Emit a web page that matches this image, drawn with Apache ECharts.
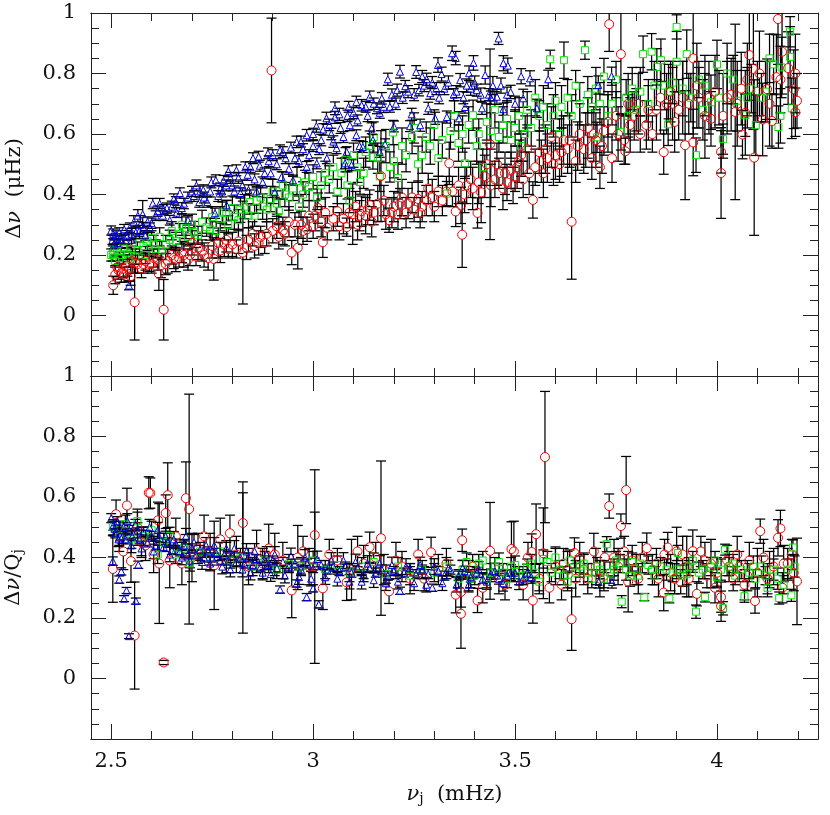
<!DOCTYPE html>
<html>
<head>
<meta charset="utf-8">
<script src="https://cdn.jsdelivr.net/npm/echarts@6/dist/echarts.min.js"></script>
<style>
  html, body { margin: 0; background: #fff; }
  #chart { width: 830px; height: 815px; }
</style>
</head>
<body>
<div id="chart"></div>
<script>
// rows are [nu, value, error]
const topBlue = [
[2.5,.281,.015],[2.503,.25,.015],[2.507,.235,.015],[2.512,.265,.015],[2.516,.24,.014],[2.52,.275,.015],[2.526,.25,.015],[2.532,.285,.016],[2.538,.265,.016],[2.544,.099,.014],[2.546,.29,.016],[2.551,.25,.02],[2.556,.31,.02],[2.561,.275,.02],[2.566,.33,.02],[2.572,.3,.03],[2.578,.335,.045],[2.584,.265,.016],[2.59,.31,.016],[2.596,.29,.016],[2.603,.37,.017],[2.61,.33,.016],[2.62,.37,.017],[2.628,.33,.016],[2.638,.355,.017],[2.645,.315,.016],[2.655,.385,.017],[2.662,.34,.016],[2.67,.405,.017],[2.68,.37,.017],[2.69,.315,.016],[2.7,.41,.017],[2.711,.43,.018],[2.718,.375,.017],[2.728,.415,.017],[2.738,.375,.017],[2.748,.44,.018],[2.757,.338,.017],[2.759,.447,.018],[2.77,.42,.018],[2.778,.445,.018],[2.786,.364,.017],[2.79,.477,.018],[2.8,.43,.018],[2.81,.48,.018],[2.82,.405,.017],[2.832,.49,.018],[2.84,.415,.017],[2.851,.52,.018],[2.86,.41,.017],[2.868,.495,.018],[2.875,.44,.018],[2.888,.536,.018],[2.895,.47,.018],[2.905,.408,.017],[2.918,.546,.018],[2.922,.458,.017],[2.932,.52,.018],[2.95,.447,.017],[2.959,.574,.019],[2.965,.51,.018],[2.975,.55,.018],[2.984,.491,.018],[2.984,.596,.019],[3.0,.56,.018],[3.008,.626,.02],[3.009,.503,.018],[3.02,.58,.019],[3.033,.652,.02],[3.034,.52,.018],[3.045,.6,.019],[3.054,.685,.021],[3.054,.655,.02],[3.058,.553,.018],[3.068,.62,.018],[3.079,.503,.018],[3.083,.541,.017],[3.088,.69,.018],[3.091,.629,.018],[3.095,.497,.018],[3.107,.706,.019],[3.107,.596,.018],[3.115,.56,.018],[3.123,.557,.018],[3.13,.69,.018],[3.14,.723,.019],[3.145,.619,.018],[3.148,.58,.018],[3.158,.685,.018],[3.165,.541,.018],[3.17,.718,.019],[3.178,.566,.018],[3.185,.781,.02],[3.19,.69,.018],[3.2,.625,.018],[3.208,.745,.02],[3.215,.806,.021],[3.222,.72,.019],[3.228,.758,.019],[3.24,.626,.018],[3.244,.665,.02],[3.255,.805,.021],[3.262,.745,.019],[3.265,.629,.02],[3.27,.79,.02],[3.281,.781,.02],[3.285,.685,.02],[3.29,.735,.02],[3.302,.652,.02],[3.309,.828,.024],[3.312,.72,.02],[3.318,.798,.023],[3.325,.75,.02],[3.331,.656,.02],[3.344,.867,.024],[3.348,.73,.02],[3.353,.851,.022],[3.361,.652,.022],[3.364,.778,.022],[3.372,.72,.02],[3.376,.689,.02],[3.386,.801,.024],[3.39,.75,.022],[3.397,.835,.024],[3.405,.745,.02],[3.418,.685,.02],[3.426,.795,.03],[3.435,.73,.02],[3.445,.76,.03],[3.455,.723,.025],[3.459,.916,.02],[3.471,.834,.025],[3.471,.682,.02],[3.482,.826,.025],[3.489,.739,.022],[3.52,.718,.03],[3.515,.791,.025],[3.537,.784,.025],[3.554,.685,.03],[3.582,.781,.03],[3.706,.762,.03],[3.739,.791,.03],
[2.505,.27,.016],[2.515,.255,.015],[2.535,.25,.016],[2.55,.27,.018],[2.57,.28,.018],[2.58,.29,.018],[2.6,.305,.017],[2.615,.345,.017],[2.63,.35,.017],[2.65,.36,.018],[2.66,.375,.018],[2.675,.355,.018],[2.69,.39,.018],[2.705,.395,.018],[2.72,.41,.018],[2.73,.39,.018],[2.745,.41,.018],[2.765,.395,.018],[2.775,.41,.018],[2.785,.43,.018],[2.795,.455,.018],[2.805,.41,.018],[2.815,.455,.018],[2.825,.43,.018],[2.838,.465,.018],[2.845,.49,.018],[2.855,.45,.018],[2.865,.525,.018],[2.88,.47,.018],[2.89,.51,.018],[2.9,.53,.018],[2.91,.5,.018],[2.925,.54,.018],[2.94,.485,.018],[2.945,.555,.018],[2.955,.52,.018],[2.97,.575,.018],[2.99,.53,.018],[3.0,.6,.019],[3.015,.55,.018],[3.025,.615,.019],[3.04,.63,.019],[3.05,.575,.019],[3.065,.665,.02],[3.075,.59,.018],[3.085,.66,.019],[3.1,.67,.019],[3.11,.645,.018],[3.12,.695,.019],[3.135,.66,.019],[3.15,.7,.019],[3.165,.67,.018],[3.175,.69,.019],[3.195,.73,.019],[3.205,.7,.019],[3.235,.74,.02],[3.25,.73,.02],[3.275,.76,.02],[3.295,.77,.02],[3.305,.75,.02],[3.335,.77,.022],[3.355,.74,.02],[3.38,.76,.022],[3.4,.77,.022],[3.415,.73,.022],[3.44,.72,.022],[3.465,.76,.025],[3.48,.73,.025],[3.5,.7,.025]
];
const topGreen = [
[2.5,.2,.02],[2.504,.205,.025],[2.51,.18,.02],[2.515,.215,.02],[2.52,.19,.02],[2.53,.225,.025],[2.54,.205,.02],[2.55,.22,.03],[2.56,.195,.025],[2.57,.24,.03],[2.58,.23,.025],[2.59,.245,.03],[2.6,.255,.025],[2.61,.22,.03],[2.62,.26,.03],[2.635,.235,.03],[2.65,.28,.03],[2.66,.245,.03],[2.675,.3,.035],[2.69,.26,.03],[2.7,.3,.035],[2.715,.265,.03],[2.736,.292,.03],[2.75,.325,.035],[2.76,.28,.03],[2.775,.34,.035],[2.79,.3,.03],[2.8,.355,.04],[2.815,.315,.035],[2.83,.36,.04],[2.843,.375,.04],[2.855,.33,.035],[2.87,.39,.04],[2.885,.35,.04],[2.9,.41,.04],[2.915,.345,.04],[2.93,.4,.04],[2.95,.42,.04],[2.965,.36,.035],[2.98,.44,.04],[3.0,.458,.04],[3.01,.39,.04],[3.03,.47,.04],[3.05,.49,.04],[3.06,.41,.04],[3.08,.515,.04],[3.09,.38,.04],[3.1,.53,.04],[3.116,.441,.04],[3.13,.54,.05],[3.148,.524,.04],[3.15,.59,.05],[3.165,.46,.05],[3.19,.491,.05],[3.198,.605,.04],[3.21,.455,.05],[3.22,.56,.06],[3.25,.62,.05],[3.26,.5,.06],[3.28,.59,.05],[3.3,.63,.05],[3.31,.52,.06],[3.331,.403,.04],[3.35,.66,.05],[3.36,.57,.06],[3.376,.503,.05],[3.396,.662,.05],[3.41,.6,.05],[3.42,.49,.06],[3.43,.64,.06],[3.45,.68,.06],[3.46,.59,.05],[3.48,.65,.06],[3.5,.62,.06],[3.515,.56,.05],[3.53,.68,.06],[3.54,.62,.06],[3.55,.72,.06],[3.56,.66,.05],[3.587,.847,.03],[3.6,.71,.06],[3.61,.6,.05],[3.621,.844,.06],[3.63,.72,.06],[3.65,.76,.05],[3.673,.877,.03],[3.68,.73,.06],[3.69,.69,.06],[3.703,.589,.05],[3.72,.79,.06],[3.73,.66,.07],[3.75,.78,.06],[3.762,.607,.06],[3.775,.72,.06],[3.79,.75,.07],[3.8,.68,.07],[3.817,.864,.06],[3.83,.7,.06],[3.838,.872,.06],[3.851,.822,.06],[3.861,.844,.07],[3.87,.76,.08],[3.879,.632,.07],[3.89,.77,.07],[3.9,.954,.04],[3.9,.839,.1],[3.925,.864,.08],[3.935,.72,.08],[3.948,.53,.057],[3.955,.78,.06],[3.965,.68,.1],[3.985,.705,.09],[4.0,.83,.08],[4.015,.583,.05],[4.025,.8,.1],[4.04,.78,.08],[4.07,.662,.07],[4.085,.75,.08],[4.096,.629,.1],[4.11,.72,.08],[4.13,.85,.08],[4.14,.83,.1],[4.152,.623,.07],[4.157,.66,.09],[4.16,.82,.1],[4.181,.938,.05],[4.181,.855,.1],[4.185,.685,.1],
[2.508,.215,.022],[2.525,.2,.022],[2.545,.185,.025],[2.565,.215,.028],[2.585,.2,.028],[2.605,.235,.03],[2.625,.215,.03],[2.645,.25,.032],[2.67,.27,.034],[2.685,.29,.036],[2.705,.275,.036],[2.725,.31,.038],[2.745,.285,.036],[2.77,.32,.04],[2.785,.34,.04],[2.805,.325,.04],[2.82,.35,.042],[2.84,.33,.04],[2.86,.38,.042],[2.875,.36,.042],[2.895,.385,.042],[2.91,.37,.042],[2.925,.43,.045],[2.94,.39,.042],[2.96,.445,.045],[2.975,.4,.042],[2.99,.425,.045],[3.02,.43,.045],[3.04,.45,.045],[3.07,.47,.05],[3.085,.43,.045],[3.11,.49,.05],[3.125,.47,.05],[3.14,.56,.05],[3.16,.52,.05],[3.18,.56,.055],[3.2,.51,.055],[3.23,.53,.055],[3.245,.59,.055],[3.27,.53,.06],[3.29,.56,.06],[3.32,.58,.06],[3.34,.61,.06],[3.37,.6,.06],[3.385,.63,.06],[3.405,.56,.06],[3.44,.61,.06],[3.47,.63,.06],[3.49,.58,.06],[3.51,.66,.06],[3.525,.6,.06],[3.57,.69,.07],[3.58,.63,.07],[3.595,.66,.07],[3.615,.69,.07],[3.64,.66,.07],[3.66,.7,.07],[3.7,.75,.07],[3.71,.7,.07],[3.74,.7,.07],[3.78,.66,.07],[3.81,.74,.08],[3.845,.76,.08],[3.88,.74,.09],[3.915,.75,.09],[3.97,.76,.1],[4.005,.72,.09],[4.05,.71,.1],[4.075,.72,.1],[4.12,.74,.1]
];
const topRed = [
[2.505,.1,.03],[2.51,.135,.03],[2.518,.15,.03],[2.525,.14,.03],[2.532,.135,.025],[2.54,.165,.035],[2.548,.13,.03],[2.558,.044,.125],[2.552,.18,.04],[2.565,.17,.03],[2.575,.155,.03],[2.585,.18,.03],[2.595,.17,.025],[2.605,.19,.03],[2.618,.138,.055],[2.623,.165,.04],[2.63,.019,.1],[2.64,.18,.04],[2.65,.2,.03],[2.66,.185,.04],[2.668,.19,.03],[2.68,.2,.04],[2.69,.185,.035],[2.7,.24,.04],[2.71,.195,.03],[2.725,.215,.035],[2.74,.19,.04],[2.754,.187,.07],[2.765,.24,.05],[2.78,.235,.04],[2.79,.22,.03],[2.8,.235,.04],[2.81,.22,.03],[2.826,.208,.17],[2.84,.25,.04],[2.855,.23,.04],[2.87,.26,.035],[2.88,.24,.035],[2.897,.81,.173],[2.9,.28,.04],[2.915,.26,.04],[2.93,.27,.04],[2.947,.208,.04],[2.955,.3,.04],[2.962,.224,.07],[2.975,.28,.045],[2.99,.33,.05],[3.0,.295,.04],[3.012,.355,.05],[3.024,.242,.05],[3.035,.29,.04],[3.05,.32,.04],[3.065,.295,.045],[3.083,.292,.03],[3.09,.34,.05],[3.098,.335,.1],[3.11,.3,.05],[3.12,.345,.05],[3.13,.33,.06],[3.14,.365,.05],[3.15,.34,.04],[3.16,.37,.06],[3.168,.461,.15],[3.18,.335,.05],[3.188,.315,.04],[3.2,.36,.05],[3.21,.335,.05],[3.22,.39,.06],[3.235,.37,.05],[3.25,.35,.04],[3.26,.385,.06],[3.27,.36,.05],[3.285,.42,.05],[3.295,.39,.06],[3.31,.41,.05],[3.32,.38,.05],[3.337,.503,.07],[3.345,.41,.05],[3.353,.344,.05],[3.366,.364,.06],[3.369,.267,.108],[3.38,.43,.06],[3.395,.42,.07],[3.407,.339,.05],[3.416,.407,.1],[3.43,.5,.07],[3.438,.566,.315],[3.45,.45,.06],[3.46,.47,.05],[3.47,.42,.07],[3.48,.44,.06],[3.49,.48,.06],[3.5,.46,.05],[3.51,.51,.07],[3.52,.45,.06],[3.53,.55,.08],[3.544,.382,.06],[3.55,.49,.06],[3.56,.54,.07],[3.57,.47,.08],[3.58,.52,.08],[3.59,.59,.1],[3.6,.53,.08],[3.61,.5,.06],[3.62,.58,.08],[3.63,.55,.08],[3.64,.31,.19],[3.65,.51,.07],[3.66,.6,.1],[3.67,.55,.08],[3.68,.62,.1],[3.69,.52,.07],[3.7,.58,.09],[3.71,.49,.07],[3.72,.61,.08],[3.733,.963,.09],[3.74,.52,.08],[3.75,.66,.08],[3.762,.864,.2],[3.77,.58,.08],[3.773,.543,.043],[3.785,.63,.09],[3.795,.66,.08],[3.81,.6,.06],[3.825,.63,.08],[3.84,.6,.06],[3.85,.68,.1],[3.868,.54,.073],[3.875,.7,.1],[3.885,.74,.1],[3.895,.64,.1],[3.905,.68,.1],[3.921,.563,.18],[3.93,.7,.1],[3.941,.572,.11],[3.941,.85,.25],[3.955,.72,.1],[3.97,.66,.14],[3.985,.65,.09],[3.995,.74,.12],[4.01,.541,.07],[4.01,.471,.15],[4.015,.66,.14],[4.025,.72,.12],[4.045,.673,.29],[4.06,.75,.12],[4.063,.598,.08],[4.075,.78,.12],[4.08,.861,.15],[4.09,.815,.2],[4.092,.522,.257],[4.1,.74,.1],[4.113,.648,.12],[4.124,.748,.1],[4.136,.643,.09],[4.147,.788,.14],[4.151,.98,.15],[4.157,.78,.11],[4.161,.872,.14],[4.176,.818,.12],[4.19,.748,.13],[4.194,.8,.13],[4.194,.672,.08],[4.198,.71,.09],
[2.515,.16,.032],[2.53,.155,.03],[2.545,.15,.035],[2.56,.175,.035],[2.58,.17,.03],[2.6,.17,.03],[2.615,.185,.035],[2.635,.17,.035],[2.655,.19,.035],[2.675,.21,.035],[2.695,.2,.035],[2.715,.225,.04],[2.73,.2,.04],[2.75,.23,.04],[2.77,.215,.04],[2.785,.25,.04],[2.815,.245,.04],[2.835,.225,.04],[2.85,.27,.04],[2.865,.24,.04],[2.885,.27,.04],[2.91,.295,.04],[2.925,.28,.045],[2.94,.31,.05],[2.97,.3,.045],[2.985,.285,.04],[3.005,.33,.05],[3.02,.31,.05],[3.03,.34,.05],[3.06,.345,.05],[3.075,.32,.05],[3.105,.36,.05],[3.115,.33,.05],[3.135,.35,.05],[3.145,.31,.05],[3.175,.38,.05],[3.195,.34,.05],[3.215,.37,.05],[3.23,.34,.05],[3.245,.39,.05],[3.265,.34,.05],[3.28,.38,.05],[3.3,.36,.05],[3.33,.41,.05],[3.36,.43,.06],[3.375,.4,.06],[3.39,.45,.06],[3.41,.44,.07],[3.425,.46,.07],[3.44,.43,.07],[3.455,.5,.07],[3.475,.47,.07],[3.495,.43,.06],[3.505,.49,.07],[3.515,.53,.07],[3.535,.47,.07],[3.565,.51,.07],[3.575,.55,.08],[3.595,.5,.07],[3.615,.54,.08],[3.635,.58,.09],[3.655,.56,.08],[3.675,.58,.09],[3.695,.6,.09],[3.715,.56,.09],[3.73,.64,.1],[3.755,.6,.09],[3.78,.7,.1],[3.805,.7,.1],[3.83,.68,.1],[3.86,.72,.12],[3.89,.7,.12],[3.915,.72,.12],[3.95,.76,.14],[3.98,.72,.12],[4.035,.73,.12],[4.05,.7,.14],[4.07,.67,.14],[4.105,.8,.14],[4.13,.7,.14]
];
const botBlue = [
[2.5,.53,.015],[2.504,.388,.014],[2.505,.505,.015],[2.51,.48,.015],[2.515,.52,.015],[2.52,.327,.012],[2.522,.47,.015],[2.525,.354,.012],[2.53,.5,.015],[2.532,.264,.01],[2.536,.46,.015],[2.538,.291,.01],[2.544,.14,.008],[2.545,.49,.016],[2.552,.47,.015],[2.56,.51,.016],[2.561,.256,.01],[2.567,.376,.012],[2.57,.46,.015],[2.58,.485,.016],[2.59,.45,.015],[2.6,.47,.016],[2.61,.44,.015],[2.62,.465,.015],[2.63,.435,.015],[2.64,.45,.015],[2.65,.425,.015],[2.66,.445,.016],[2.67,.42,.015],[2.68,.44,.015],[2.69,.41,.015],[2.7,.43,.015],[2.71,.41,.015],[2.72,.425,.015],[2.73,.4,.015],[2.74,.42,.015],[2.75,.4,.015],[2.76,.415,.015],[2.77,.39,.015],[2.78,.41,.015],[2.79,.39,.015],[2.8,.405,.015],[2.81,.385,.015],[2.82,.4,.015],[2.83,.38,.015],[2.84,.4,.015],[2.85,.375,.015],[2.86,.395,.015],[2.87,.37,.015],[2.88,.39,.015],[2.89,.375,.015],[2.9,.39,.015],[2.91,.365,.015],[2.918,.294,.012],[2.925,.385,.015],[2.94,.37,.015],[2.955,.38,.015],[2.959,.314,.012],[2.97,.36,.015],[2.984,.269,.012],[2.985,.38,.015],[3.0,.298,.012],[3.0,.365,.015],[3.014,.245,.012],[3.02,.375,.015],[3.035,.36,.015],[3.05,.37,.015],[3.065,.355,.015],[3.08,.37,.015],[3.095,.35,.015],[3.11,.365,.015],[3.125,.345,.015],[3.14,.365,.015],[3.155,.35,.015],[3.17,.36,.015],[3.185,.34,.015],[3.2,.355,.015],[3.215,.29,.012],[3.225,.35,.015],[3.24,.365,.015],[3.255,.345,.015],[3.27,.36,.015],[3.285,.345,.015],[3.295,.3,.012],[3.31,.355,.015],[3.325,.34,.015],[3.34,.36,.015],[3.36,.34,.015],[3.375,.355,.016],[3.39,.335,.016],[3.405,.35,.016],[3.42,.33,.016],[3.44,.345,.017],[3.46,.33,.018],[3.48,.34,.018],[3.5,.35,.02],[3.52,.33,.018],[3.54,.335,.02],[3.707,.319,.02],[3.74,.319,.02],
[2.508,.495,.024],[2.518,.46,.024],[2.528,.47,.024],[2.54,.52,.025],[2.55,.44,.024],[2.565,.49,.025],[2.575,.43,.024],[2.595,.5,.026],[2.605,.42,.024],[2.615,.49,.026],[2.635,.47,.026],[2.645,.41,.024],[2.655,.46,.026],[2.675,.4,.024],[2.685,.47,.026],[2.695,.39,.024],[2.705,.45,.026],[2.725,.385,.024],[2.735,.44,.026],[2.745,.38,.024],[2.755,.44,.026],[2.775,.37,.024],[2.785,.43,.026],[2.795,.36,.024],[2.805,.43,.026],[2.825,.36,.024],[2.835,.42,.026],[2.845,.35,.024],[2.855,.42,.026],[2.875,.35,.024],[2.885,.41,.026],[2.895,.345,.024],[2.905,.41,.026],[2.93,.34,.024],[2.945,.405,.026],[2.965,.335,.024],[2.98,.4,.026],[2.995,.33,.024],[3.01,.395,.026],[3.03,.335,.024],[3.045,.39,.026],[3.06,.33,.024],[3.075,.39,.026],[3.09,.32,.024],[3.105,.385,.026],[3.12,.32,.024],[3.135,.38,.026],[3.15,.325,.024],[3.165,.38,.026],[3.18,.315,.024],[3.195,.375,.026],[3.21,.32,.024],[3.23,.37,.026],[3.25,.315,.024],[3.265,.375,.026],[3.28,.31,.024],[3.3,.37,.026],[3.32,.315,.024],[3.335,.365,.026],[3.355,.31,.024],[3.37,.365,.026],[3.385,.31,.024],[3.41,.36,.026],[3.43,.32,.025],[3.45,.355,.026],[3.47,.315,.026],[3.49,.35,.026],[3.51,.32,.026],[3.53,.35,.028]
];
const botGreen = [
[2.505,.5,.025],[2.52,.47,.03],[2.535,.51,.03],[2.55,.46,.03],[2.565,.52,.03],[2.58,.47,.03],[2.6,.49,.03],[2.615,.41,.03],[2.63,.45,.03],[2.645,.47,.03],[2.66,.41,.03],[2.68,.43,.03],[2.695,.38,.025],[2.72,.42,.03],[2.745,.4,.025],[2.77,.42,.03],[2.795,.39,.025],[2.82,.4,.03],[2.85,.37,.03],[2.88,.39,.03],[2.91,.36,.03],[2.94,.38,.03],[2.97,.37,.03],[3.0,.39,.03],[3.03,.36,.03],[3.06,.375,.03],[3.09,.35,.03],[3.12,.37,.03],[3.15,.385,.03],[3.18,.345,.03],[3.21,.37,.03],[3.24,.34,.03],[3.27,.36,.03],[3.3,.35,.03],[3.33,.37,.03],[3.36,.33,.03],[3.38,.385,.03],[3.4,.34,.03],[3.42,.39,.03],[3.44,.35,.03],[3.46,.385,.03],[3.48,.33,.03],[3.5,.375,.03],[3.52,.34,.03],[3.54,.38,.03],[3.56,.32,.03],[3.57,.395,.03],[3.59,.35,.03],[3.6,.4,.035],[3.62,.34,.03],[3.635,.39,.035],[3.65,.35,.03],[3.67,.38,.035],[3.69,.33,.03],[3.703,.37,.03],[3.727,.444,.025],[3.735,.35,.035],[3.75,.39,.03],[3.764,.254,.02],[3.775,.36,.035],[3.79,.385,.03],[3.805,.34,.03],[3.82,.269,.012],[3.83,.375,.03],[3.845,.34,.03],[3.86,.37,.03],[3.882,.265,.015],[3.89,.35,.03],[3.903,.415,.025],[3.915,.34,.035],[3.93,.37,.03],[3.948,.221,.022],[3.955,.35,.035],[3.97,.269,.016],[3.985,.37,.03],[4.0,.335,.03],[4.015,.232,.022],[4.02,.426,.018],[4.03,.37,.03],[4.045,.34,.03],[4.068,.272,.02],[4.08,.35,.03],[4.095,.33,.03],[4.11,.37,.035],[4.125,.3,.03],[4.14,.36,.035],[4.154,.266,.02],[4.165,.31,.03],[4.184,.275,.02],[4.188,.433,.025],[4.192,.37,.035],
[3.37,.36,.03],[3.39,.33,.03],[3.41,.38,.03],[3.43,.33,.03],[3.45,.37,.03],[3.47,.35,.03],[3.49,.37,.03],[3.51,.34,.03],[3.53,.365,.03],[3.55,.35,.03],[3.58,.385,.035],[3.61,.36,.03],[3.63,.32,.03],[3.66,.37,.035],[3.68,.35,.03],[3.71,.36,.03],[3.72,.33,.03],[3.745,.36,.035],[3.76,.38,.03],[3.785,.34,.035],[3.81,.38,.03],[3.84,.36,.03],[3.875,.36,.035],[3.9,.36,.03],[3.925,.345,.035],[3.94,.39,.03],[3.965,.36,.03],[3.995,.39,.03],[4.01,.36,.035],[4.04,.38,.03],[4.06,.36,.03],[4.09,.37,.035],[4.12,.34,.03],[4.15,.33,.035],[4.175,.36,.035]
];
const botRed = [
[2.504,.362,.11],[2.512,.543,.047],[2.52,.47,.05],[2.53,.42,.06],[2.539,.572,.057],[2.549,.388,.07],[2.558,.142,.177],[2.565,.5,.06],[2.575,.45,.05],[2.585,.44,.05],[2.593,.614,.053],[2.597,.613,.05],[2.605,.41,.06],[2.616,.523,.06],[2.619,.38,.198],[2.63,.053,.007],[2.635,.547,.06],[2.64,.606,.107],[2.645,.39,.09],[2.66,.47,.06],[2.675,.38,.07],[2.685,.596,.12],[2.693,.56,.38],[2.7,.4,.08],[2.715,.43,.05],[2.73,.47,.07],[2.745,.42,.06],[2.755,.374,.146],[2.77,.46,.07],[2.785,.4,.05],[2.794,.48,.06],[2.81,.41,.06],[2.826,.514,.1],[2.826,.4,.25],[2.84,.37,.06],[2.86,.42,.07],[2.875,.38,.05],[2.89,.43,.08],[2.905,.41,.07],[2.925,.39,.06],[2.947,.291,.09],[2.962,.4,.106],[2.975,.42,.05],[2.99,.37,.06],[3.004,.474,.076],[3.004,.37,.32],[3.024,.298,.07],[3.04,.41,.05],[3.06,.39,.04],[3.083,.318,.06],[3.095,.36,.1],[3.11,.42,.05],[3.125,.38,.06],[3.14,.434,.05],[3.155,.4,.05],[3.168,.464,.255],[3.175,.36,.05],[3.188,.288,.04],[3.205,.39,.06],[3.22,.37,.05],[3.24,.33,.05],[3.26,.41,.05],[3.275,.33,.04],[3.292,.417,.05],[3.31,.36,.05],[3.33,.38,.05],[3.353,.277,.06],[3.366,.286,.05],[3.366,.214,.114],[3.369,.457,.037],[3.385,.34,.05],[3.395,.37,.04],[3.407,.258,.04],[3.42,.3,.05],[3.438,.422,.16],[3.46,.33,.05],[3.475,.31,.05],[3.491,.428,.09],[3.497,.42,.1],[3.52,.31,.05],[3.532,.4,.05],[3.541,.418,.06],[3.544,.258,.075],[3.552,.477,.1],[3.56,.33,.05],[3.574,.732,.217],[3.57,.414,.15],[3.585,.3,.05],[3.6,.37,.06],[3.615,.31,.05],[3.63,.36,.06],[3.64,.196,.103],[3.647,.415,.05],[3.66,.4,.05],[3.68,.33,.05],[3.695,.42,.06],[3.71,.33,.06],[3.722,.4,.05],[3.733,.57,.04],[3.745,.4,.06],[3.762,.504,.04],[3.775,.623,.111],[3.78,.32,.1],[3.79,.39,.05],[3.805,.33,.05],[3.826,.431,.05],[3.84,.36,.05],[3.855,.33,.06],[3.868,.284,.06],[3.878,.433,.05],[3.885,.35,.06],[3.9,.42,.08],[3.91,.32,.04],[3.925,.37,.1],[3.94,.421,.07],[3.95,.28,.04],[3.96,.42,.05],[3.975,.34,.04],[3.985,.38,.08],[4.0,.35,.05],[4.01,.269,.05],[4.01,.239,.05],[4.025,.39,.05],[4.04,.33,.04],[4.055,.37,.05],[4.068,.31,.05],[4.08,.39,.06],[4.094,.256,.04],[4.1,.35,.08],[4.107,.487,.04],[4.125,.33,.05],[4.14,.37,.06],[4.151,.465,.06],[4.157,.496,.06],[4.162,.3,.05],[4.175,.38,.05],[4.19,.35,.06],[4.198,.321,.143],
[3.62,.38,.05],[3.65,.33,.06],[3.67,.36,.05],[3.7,.37,.06],[3.72,.34,.05],[3.755,.37,.06],[3.77,.42,.05],[3.8,.36,.05],[3.815,.4,.05],[3.85,.38,.05],[3.87,.41,.05],[3.895,.33,.05],[3.915,.41,.06],[3.93,.33,.06],[3.97,.39,.06],[3.995,.3,.05],[4.03,.37,.05],[4.05,.41,.06],[4.075,.34,.05],[4.115,.4,.06],[4.13,.36,.06],[4.165,.38,.06],[4.185,.41,.05]
];

const xMajor = [2.5, 3, 3.5, 4];
const xMinor = [2.6, 2.7, 2.8, 2.9, 3.1, 3.2, 3.3, 3.4, 3.6, 3.7, 3.8, 3.9, 4.1, 4.2];

const lineColor = '#222';
const textColor = '#111';
const fontFamily = '"DejaVu Serif", serif';

const chart = echarts.init(document.getElementById('chart'));

// one x axis per side and per tick length, the major ticks are not multiples of min
const xAxisFor = (grid, position, ticks, length, labels) => ({
  type: 'value',
  gridIndex: grid,
  position,
  min: 2.45,
  max: 4.25,
  axisLine: { show: true, onZero: false, lineStyle: { color: lineColor } },
  axisTick: { show: true, inside: true, length, customValues: ticks, lineStyle: { color: lineColor } },
  axisLabel: labels
    ? { show: true, customValues: ticks, color: textColor, fontSize: 21, fontFamily, margin: 12 }
    : { show: false },
  splitLine: { show: false }
});

const yAxisFor = (grid, position, labels) => ({
  type: 'value',
  gridIndex: grid,
  position,
  min: -0.2,
  max: 1,
  interval: 0.2,
  axisLine: { show: true, onZero: false, lineStyle: { color: lineColor } },
  axisTick: { show: true, inside: true, length: 15, lineStyle: { color: lineColor } },
  minorTick: { show: true, splitNumber: 4, length: 8, lineStyle: { color: lineColor } },
  axisLabel: labels
    ? { show: true, showMinLabel: false, color: textColor, fontSize: 21, fontFamily, margin: 15, padding: [2, 0, 0, 0], verticalAlignMaxLabel: 'middle' }
    : { show: false },
  splitLine: { show: false }
});

const nameRich = {
  n: { fontFamily, fontSize: 21, color: textColor },
  i: { fontFamily, fontSize: 21, fontStyle: 'italic', color: textColor },
  s: { fontFamily, fontSize: 14, color: textColor, padding: [9, 0, 0, 0] }
};

const xAxes = [
  xAxisFor(0, 'bottom', xMajor, 15, false),
  xAxisFor(0, 'top', xMajor, 15, false),
  xAxisFor(0, 'bottom', xMinor, 8, false),
  xAxisFor(0, 'top', xMinor, 8, false),
  {
    ...xAxisFor(1, 'bottom', xMajor, 15, true),
    name: '{i|ν}{s|j}{n|  (mHz)}',
    nameLocation: 'middle',
    nameGap: 44,
    nameTextStyle: { rich: nameRich }
  },
  xAxisFor(1, 'top', xMajor, 15, false),
  xAxisFor(1, 'bottom', xMinor, 8, false),
  xAxisFor(1, 'top', xMinor, 8, false)
];

const yAxes = [
  {
    ...yAxisFor(0, 'left', true),
    name: '{n|Δ}{i|ν}{n|  (μHz)}',
    nameLocation: 'middle',
    nameGap: 66,
    nameTextStyle: { rich: nameRich, padding: [0, 0, 0, 12] }
  },
  yAxisFor(0, 'right', false),
  {
    ...yAxisFor(1, 'left', true),
    name: '{n|Δ}{i|ν}{n|/Q}{s|j}',
    nameLocation: 'middle',
    nameGap: 66,
    nameTextStyle: { rich: nameRich, padding: [0, 40, 0, 0] }
  },
  yAxisFor(1, 'right', false)
];

// the bar stops short of the marker, the caps are always drawn
const errorBars = (rows, xIndex, yIndex, gap) => ({
  type: 'custom',
  xAxisIndex: xIndex,
  yAxisIndex: yIndex,
  clip: true,
  silent: true,
  data: rows,
  renderItem: (params, api) => {
    const x = api.value(0);
    const y = api.value(1);
    const err = api.value(2);
    const mid = api.coord([x, y]);
    const hi = api.coord([x, y + err]);
    const lo = api.coord([x, y - err]);
    const style = { stroke: '#000', lineWidth: 1.25, fill: null };
    const children = [
      { type: 'line', shape: { x1: hi[0] - 5, y1: hi[1], x2: hi[0] + 5, y2: hi[1] }, style },
      { type: 'line', shape: { x1: lo[0] - 5, y1: lo[1], x2: lo[0] + 5, y2: lo[1] }, style }
    ];
    if (mid[1] - hi[1] > gap) {
      children.push({ type: 'line', shape: { x1: hi[0], y1: hi[1], x2: hi[0], y2: mid[1] - gap }, style });
      children.push({ type: 'line', shape: { x1: lo[0], y1: mid[1] + gap, x2: lo[0], y2: lo[1] }, style });
    }
    return { type: 'group', children };
  }
});

const markers = (rows, xIndex, yIndex, symbol, size, color) => ({
  type: 'scatter',
  xAxisIndex: xIndex,
  yAxisIndex: yIndex,
  clip: true,
  silent: true,
  symbol,
  symbolSize: size,
  data: rows.map(r => [r[0], r[1]]),
  itemStyle: { color: 'rgba(0,0,0,0)', borderColor: color, borderWidth: 1, opacity: 1 }
});

const layer = (rows, xIndex, yIndex, symbol, size, color) => [
  markers(rows, xIndex, yIndex, symbol, size, color),
  errorBars(rows, xIndex, yIndex, size / 2)
];

chart.setOption({
  animation: false,
  grid: [
    { left: 91, top: 13, width: 727, height: 363, outerBoundsMode: 'none' },
    { left: 91, top: 376, width: 727, height: 363, outerBoundsMode: 'none' }
  ],
  xAxis: xAxes,
  yAxis: yAxes,
  series: [
    ...layer(topGreen, 0, 0, 'rect', 7, '#00e600'),
    ...layer(topBlue, 0, 0, 'triangle', 7, '#0000e0'),
    ...layer(topRed, 0, 0, 'circle', 9, '#f00000'),
    ...layer(botRed, 4, 2, 'circle', 9, '#f00000'),
    ...layer(botGreen, 4, 2, 'rect', 7, '#00e600'),
    ...layer(botBlue, 4, 2, 'triangle', 7, '#0000e0')
  ]
});
</script>
</body>
</html>
